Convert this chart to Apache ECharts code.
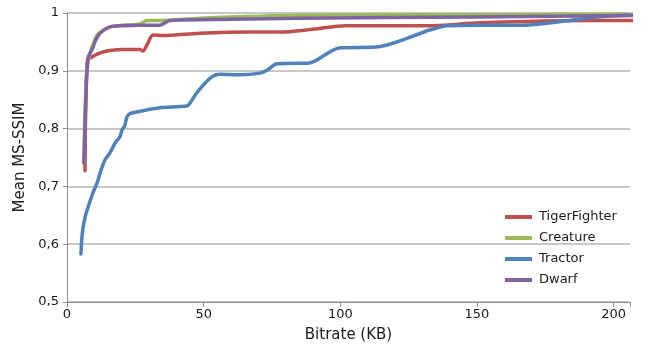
<!DOCTYPE html>
<html>
<head>
<meta charset="utf-8">
<script src="https://cdn.jsdelivr.net/npm/echarts@6/dist/echarts.min.js"></script>
<style>
html,body{margin:0;padding:0;background:#fff;}
#chart{width:662px;height:349px;}
</style>
</head>
<body>
<div id="chart"></div>
<script>
// Mean MS-SSIM versus bitrate (KB) for four test sequences
const seriesNames = ['TigerFighter', 'Creature', 'Tractor', 'Dwarf'];
const seriesColors = ['#C0504D', '#9BBB59', '#4F81BD', '#8064A2'];

const tigerX = [6.6, 6.9, 7.7, 8.4, 9.5, 12.1, 15.7, 20.5, 26.7, 27.8, 29.3, 31.5, 35.1, 48.6, 66.9, 78, 90, 102, 132, 151, 190, 210.7];
const tigerY = [0.727, 0.85, 0.922, 0.922, 0.925, 0.931, 0.935, 0.937, 0.937, 0.934, 0.945, 0.962, 0.961, 0.965, 0.967, 0.967, 0.972, 0.978, 0.978, 0.983, 0.987, 0.987];

const creatureX = [6.2, 6.6, 7.3, 8.4, 9.5, 11, 13.2, 14.6, 15.7, 20.5, 26.7, 29.3, 34, 48.6, 85, 150, 210.7];
const creatureY = [0.74, 0.832, 0.901, 0.93, 0.945, 0.962, 0.97, 0.974, 0.976, 0.979, 0.981, 0.987, 0.987, 0.991, 0.996, 0.997, 0.998];

const tractorX = [5.1, 5.6, 6.6, 7.7, 9.5, 11, 12.1, 13.9, 15.7, 17.6, 19.4, 20.1, 21.2, 21.9, 23, 26.7, 34, 43.9, 45, 47.5, 52.3, 56, 63.3, 70.6, 73.2, 76.8, 85.2, 88, 100, 113, 133, 139, 151, 166, 194, 205.9, 210.7];
const tractorY = [0.583, 0.619, 0.647, 0.664, 0.689, 0.706, 0.723, 0.746, 0.758, 0.775, 0.786, 0.797, 0.806, 0.82, 0.826, 0.83, 0.836, 0.839, 0.844, 0.862, 0.887, 0.894, 0.893, 0.896, 0.901, 0.912, 0.913, 0.913, 0.94, 0.941, 0.971, 0.978, 0.979, 0.979, 0.993, 0.996, 0.996];

const dwarfX = [6.2, 6.9, 7.7, 9.5, 10.2, 12.1, 15.7, 20.5, 26.7, 34, 37.7, 60.7, 85, 150, 210.7];
const dwarfY = [0.74, 0.85, 0.922, 0.94, 0.95, 0.965, 0.976, 0.978, 0.979, 0.979, 0.987, 0.989, 0.991, 0.993, 0.996];

const xTicks = [0, 50, 100, 150, 200];
const yTicks = [0.5, 0.6, 0.7, 0.8, 0.9, 1];

function pairs(xs, ys) { return xs.map((x, i) => [x, ys[i]]); }
const allData = [pairs(tigerX, tigerY), pairs(creatureX, creatureY), pairs(tractorX, tractorY), pairs(dwarfX, dwarfY)];

const FONT = 'DejaVu Sans';
const chart = echarts.init(document.getElementById('chart'), null, { renderer: 'canvas' });
chart.setOption({
  animation: false,
  backgroundColor: '#fff',
  grid: { left: 67, right: 32, top: 13, bottom: 47, containLabel: false },
  legend: {
    orient: 'vertical',
    left: 500,
    top: 204,
    itemWidth: 27,
    itemHeight: 4,
    itemGap: 5,
    icon: 'rect',
    textStyle: { fontFamily: FONT, fontSize: 13, color: '#1a1a1a', lineHeight: 16, padding: [0, 0, 0, 2] },
    data: seriesNames
  },
  xAxis: {
    type: 'value',
    min: 0,
    max: 206,
    interval: 50,
    name: 'Bitrate (KB)',
    nameLocation: 'middle',
    nameGap: 26,
    nameTextStyle: { fontFamily: FONT, fontSize: 15, color: '#1a1a1a' },
    axisLine: { show: true, lineStyle: { color: '#8c8c8c', width: 1 } },
    axisTick: { show: true, length: 5, inside: false, lineStyle: { color: '#8c8c8c' } },
    axisLabel: { fontFamily: FONT, fontSize: 13, color: '#1a1a1a', margin: 6,
      formatter: v => xTicks.includes(v) ? String(v) : '' },
    splitLine: { show: false }
  },
  yAxis: {
    type: 'value',
    min: 0.5,
    max: 1,
    interval: 0.1,
    name: 'Mean MS-SSIM',
    nameLocation: 'middle',
    nameGap: 38,
    nameRotate: 90,
    nameTextStyle: { fontFamily: FONT, fontSize: 15, color: '#1a1a1a' },
    axisLine: { show: true, lineStyle: { color: '#8c8c8c', width: 1 } },
    axisTick: { show: true, length: 4, inside: false, lineStyle: { color: '#8c8c8c' } },
    axisLabel: { fontFamily: FONT, fontSize: 13, color: '#1a1a1a', margin: 8,
      formatter: v => {
        const t = yTicks.find(k => Math.abs(k - v) < 1e-6);
        if (t === undefined) return '';
        return t === 1 ? '1' : t.toFixed(1).replace('.', ',');
      } },
    splitLine: { show: true, lineStyle: { color: '#b4b4b4', width: 1.5 } }
  },
  series: allData.map((d, i) => ({
    name: seriesNames[i],
    type: 'line',
    data: d,
    smooth: 0.3,
    showSymbol: false,
    clip: false,
    color: seriesColors[i],
    lineStyle: { width: 3.5, color: seriesColors[i], cap: 'round', join: 'round' }
  }))
});
</script>
</body>
</html>
